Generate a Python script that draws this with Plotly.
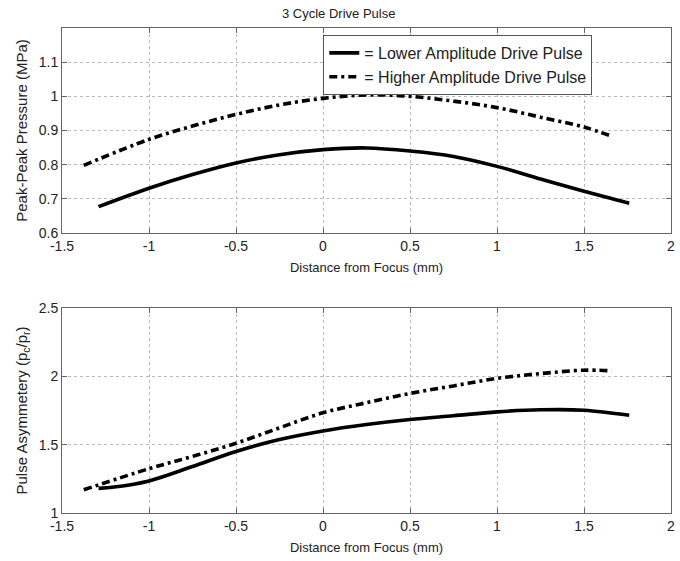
import plotly.graph_objects as go

# ---- data ----
top_low_x = [-1.29, -1.0, -0.75, -0.5, -0.25, 0.0, 0.25, 0.5, 0.75, 1.0, 1.25, 1.5, 1.76]
top_low_y = [0.677, 0.731, 0.771, 0.805, 0.829, 0.844, 0.849, 0.840, 0.824, 0.795, 0.758, 0.722, 0.687]

top_high_x = [-1.375, -1.0, -0.75, -0.5, -0.25, 0.0, 0.25, 0.5, 0.75, 1.0, 1.25, 1.5, 1.66]
top_high_y = [0.798, 0.874, 0.913, 0.947, 0.975, 0.994, 1.004, 1.000, 0.986, 0.967, 0.939, 0.910, 0.883]

bot_low_x = [-1.29, -1.2, -1.0, -0.75, -0.5, -0.25, 0.0, 0.25, 0.5, 0.75, 1.0, 1.25, 1.5, 1.76]
bot_low_y = [1.18, 1.19, 1.235, 1.34, 1.45, 1.537, 1.60, 1.647, 1.684, 1.712, 1.74, 1.755, 1.752, 1.715]

bot_high_x = [-1.375, -1.0, -0.75, -0.5, -0.25, 0.0, 0.25, 0.5, 0.75, 1.0, 1.25, 1.5, 1.66]
bot_high_y = [1.17, 1.324, 1.414, 1.51, 1.623, 1.733, 1.807, 1.875, 1.93, 1.985, 2.02, 2.045, 2.04]

x_ticks = [-1.5, -1, -0.5, 0, 0.5, 1, 1.5, 2]
x_ticklabels = ["-1.5", "-1", "-0.5", "0", "0.5", "1", "1.5", "2"]
top_yticks = [0.6, 0.7, 0.8, 0.9, 1.0, 1.1]
top_yticklabels = ["0.6", "0.7", "0.8", "0.9", "1", "1.1"]
bot_yticks = [1, 1.5, 2, 2.5]
bot_yticklabels = ["1", "1.5", "2", "2.5"]

series_names = ["= Lower Amplitude Drive Pulse", "= Higher Amplitude Drive Pulse"]
chart_title = "3 Cycle Drive Pulse"

FONT = "Liberation Sans, Arial, Helvetica, sans-serif"
TXT = "#222222"
DASHDOT = "8px,4px,3px,4px"
LW = 3.6

fig = go.Figure()
fig.add_trace(go.Scatter(x=top_low_x, y=top_low_y, mode="lines", name=series_names[0],
                         line=dict(color="black", width=LW, shape="spline"), xaxis="x", yaxis="y"))
fig.add_trace(go.Scatter(x=top_high_x, y=top_high_y, mode="lines", name=series_names[1],
                         line=dict(color="black", width=LW, dash=DASHDOT, shape="spline"), xaxis="x", yaxis="y"))
fig.add_trace(go.Scatter(x=bot_low_x, y=bot_low_y, mode="lines", showlegend=False,
                         line=dict(color="black", width=LW, shape="spline"), xaxis="x2", yaxis="y2"))
fig.add_trace(go.Scatter(x=bot_high_x, y=bot_high_y, mode="lines", showlegend=False,
                         line=dict(color="black", width=LW, dash=DASHDOT, shape="spline"), xaxis="x2", yaxis="y2"))

axis_common = dict(
    showline=True, linecolor="#666666", linewidth=1, mirror="ticks",
    ticks="inside", ticklen=5, tickcolor="#666666",
    showgrid=True, gridcolor="#bbbbbb", griddash="dot", gridwidth=1,
    zeroline=False, tickfont=dict(size=14, color=TXT, family=FONT),
)

m_l, m_r, m_t, m_b = 62, 5, 28, 48
W, H = 680, 561
pw = W - m_l - m_r
ph = H - m_t - m_b
top_lo = (513 - 233) / ph

fig.update_layout(
    width=W, height=H,
    margin=dict(l=m_l, r=m_r, t=m_t, b=m_b),
    paper_bgcolor="white", plot_bgcolor="white",
    font=dict(family=FONT, color=TXT, size=12),
    xaxis=dict(axis_common, domain=[0, 1], range=[-1.5, 2], tickvals=x_ticks, ticktext=x_ticklabels,
               anchor="y", title=dict(text="Distance from Focus (mm)", standoff=10, font=dict(size=13))),
    yaxis=dict(axis_common, domain=[top_lo, 1], range=[0.6, 1.2], tickvals=top_yticks, ticktext=top_yticklabels,
               anchor="x", title=dict(text="Peak-Peak Pressure (MPa)", standoff=7, font=dict(size=15))),
    xaxis2=dict(axis_common, domain=[0, 1], range=[-1.5, 2], tickvals=x_ticks, ticktext=x_ticklabels,
                anchor="y2", title=dict(text="Distance from Focus (mm)", standoff=10, font=dict(size=13))),
    yaxis2=dict(axis_common, domain=[0, (513 - 308) / ph], range=[1, 2.5], tickvals=bot_yticks, ticktext=bot_yticklabels,
                anchor="x2", title=dict(text="Pulse Asymmetery (p<sub>c</sub>/p<sub>r</sub>)", standoff=7, font=dict(size=15))),
    legend=dict(x=(325 - m_l) / pw, y=1 - (35 - m_t) / ph, xanchor="left", yanchor="top",
                bgcolor="white", bordercolor="#555555", borderwidth=1,
                font=dict(size=16, color=TXT, family=FONT), itemwidth=30,
                tracegroupgap=0),
    showlegend=True,
    annotations=[dict(text=chart_title, xref="paper", yref="paper", x=(340 - m_l) / pw,
                      y=1 + (m_t - 13) / ph, xanchor="center", yanchor="middle", showarrow=False,
                      font=dict(size=13, color=TXT, family=FONT))],
)

fig.write_html("out.html", config={"displayModeBar": False},
               post_script="document.body.style.margin='0';")
